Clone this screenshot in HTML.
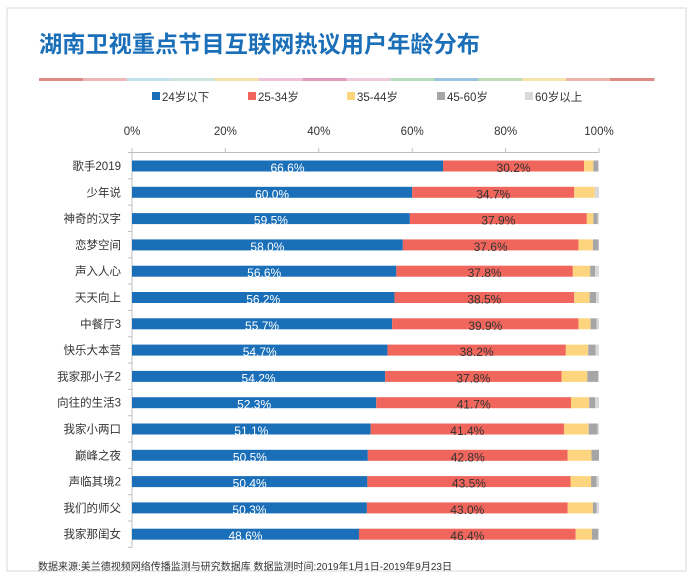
<!DOCTYPE html>
<html><head><meta charset="utf-8">
<style>
body{margin:0;background:#fff;}
svg text{font-family:"Liberation Sans","Noto Sans CJK SC",sans-serif;}
</style></head>
<body>
<svg id="chart" width="693" height="581" viewBox="0 0 693 581" xmlns="http://www.w3.org/2000/svg">
<rect x="7" y="8" width="679" height="563" fill="#fff" stroke="#d9d9d9" stroke-width="1"/>
<text x="39" y="52" font-size="23" font-weight="bold" fill="#1a6fb8" textLength="441" lengthAdjust="spacingAndGlyphs">湖南卫视重点节目互联网热议用户年龄分布</text>
<g id="stripe"></g>
<g id="legend"></g>
<g id="axis"></g>
<g id="bars"></g>
<text x="38" y="570" font-size="10" fill="#333">数据来源:美兰德视频网络传播监测与研究数据库  数据监测时间:2019年1月1日-2019年9月23日</text>
</svg>
<script>
const categories=["歌手2019","少年说","神奇的汉字","恋梦空间","声入人心","天天向上","中餐厅3","快乐大本营","我家那小子2","向往的生活3","我家小两口","巅峰之夜","声临其境2","我们的师父","我家那闺女"];
const s24=[66.6,60.0,59.5,58.0,56.6,56.2,55.7,54.7,54.2,52.3,51.1,50.5,50.4,50.3,48.6];
const s25=[30.2,34.7,37.9,37.6,37.8,38.5,39.9,38.2,37.8,41.7,41.4,42.8,43.5,43.0,46.4];
const s35=[2.0,4.4,1.4,3.1,3.7,3.3,2.6,4.8,5.5,3.9,5.3,5.1,4.4,5.4,3.5];
const s45=[1.0,0,0.9,1.2,1.1,1.4,1.3,1.6,2.3,1.3,1.9,1.6,1.2,0.8,1.3];
const s60=[0.2,0.9,0.3,0.1,0.8,0.6,0.5,0.7,0.2,0.8,0.3,0,0.5,0.5,0.2];
const seriesNames=["24岁以下","25-34岁","35-44岁","45-60岁","60岁以上"];
const tickLabels=["0%","20%","40%","60%","80%","100%"];
const tickValues=[0,20,40,60,80,100];

const NS="http://www.w3.org/2000/svg";
const colors=["#1a6fb8","#f0665c","#fdd57e","#a6a6a8","#d9d9d9"];
const X0=132,X1=599,Y0=166,STEP=26.3,BH=11;
const xs=v=>X0+(X1-X0)*v/100;
const yc=i=>Y0+i*STEP;
function mk(tag,attrs,parent){const e=document.createElementNS(NS,tag);for(const k in attrs)e.setAttribute(k,attrs[k]);parent.appendChild(e);return e;}

const stripe=document.getElementById('stripe');
const sc=["#e08a86","#efb8b8","#c2e2ec","#cde6dd","#f5e2aa","#efc2da","#e39bbd","#efcadd","#b8ddbe","#9ac4e2","#bfdcb4","#f6e3a8","#eeb3a9","#e08a86"];
const sw=(654-39)/sc.length;
sc.forEach((c,i)=>{const r=mk('rect',{x:39+i*sw,y:78,width:sw+0.5,height:3,fill:c},stripe);

});

const lg=document.getElementById('legend');
const lx=[152,248,347,437,525];
seriesNames.forEach((n,i)=>{
 const g=mk('g',{},lg);
 
 
 mk('rect',{x:lx[i],y:92,width:8,height:8,fill:colors[i]},g);
 const t=mk('text',{x:lx[i]+10,y:101,'font-size':11.5,fill:'#333'},g);t.textContent=n;
});

const ax=document.getElementById('axis');
mk('line',{x1:X0,y1:152.5,x2:X1,y2:152.5,stroke:'#bfbfbf'},ax);
tickValues.forEach((v,i)=>{
 mk('line',{x1:xs(v),y1:148,x2:xs(v),y2:153,stroke:'#bfbfbf'},ax);
 const t=mk('text',{x:xs(v),y:135,'font-size':11.5,fill:'#333','text-anchor':'middle'},ax);
 
 
 t.textContent=tickLabels[i];
});
const yTop=152.5,yBot=yc(categories.length-1)+STEP/2;
mk('line',{x1:X0,y1:yTop,x2:X0,y2:yBot,stroke:'#bfbfbf'},ax);
for(let i=0;i<=categories.length;i++){const y=yTop+(yBot-yTop)*i/categories.length;mk('line',{x1:X0-4,y1:y,x2:X0,y2:y,stroke:'#bfbfbf'},ax);}

const bars=document.getElementById('bars');
const series=[s24,s25,s35,s45,s60];
categories.forEach((c,i)=>{
 const lab=mk('text',{x:121,y:yc(i)+4,'font-size':11.5,fill:'#333','text-anchor':'end'},bars);
 
 
 lab.textContent=c;
 let acc=0;
 series.forEach((s,k)=>{
  const v=s[i];
  const r=mk('rect',{x:xs(acc),y:yc(i)-BH/2,width:Math.max(0,xs(acc+v)-xs(acc)),height:BH,fill:colors[k]},bars);
  
  
  if(k<2){
   const t=mk('text',{x:(xs(acc)+xs(acc+v))/2,y:yc(i)+6,'font-size':12,fill:k==0?'#fff':'#333','text-anchor':'middle'},bars);
   
   
   t.textContent=v.toFixed(1)+'%';
  }
  acc+=v;
 });
});
</script>
</body></html>
